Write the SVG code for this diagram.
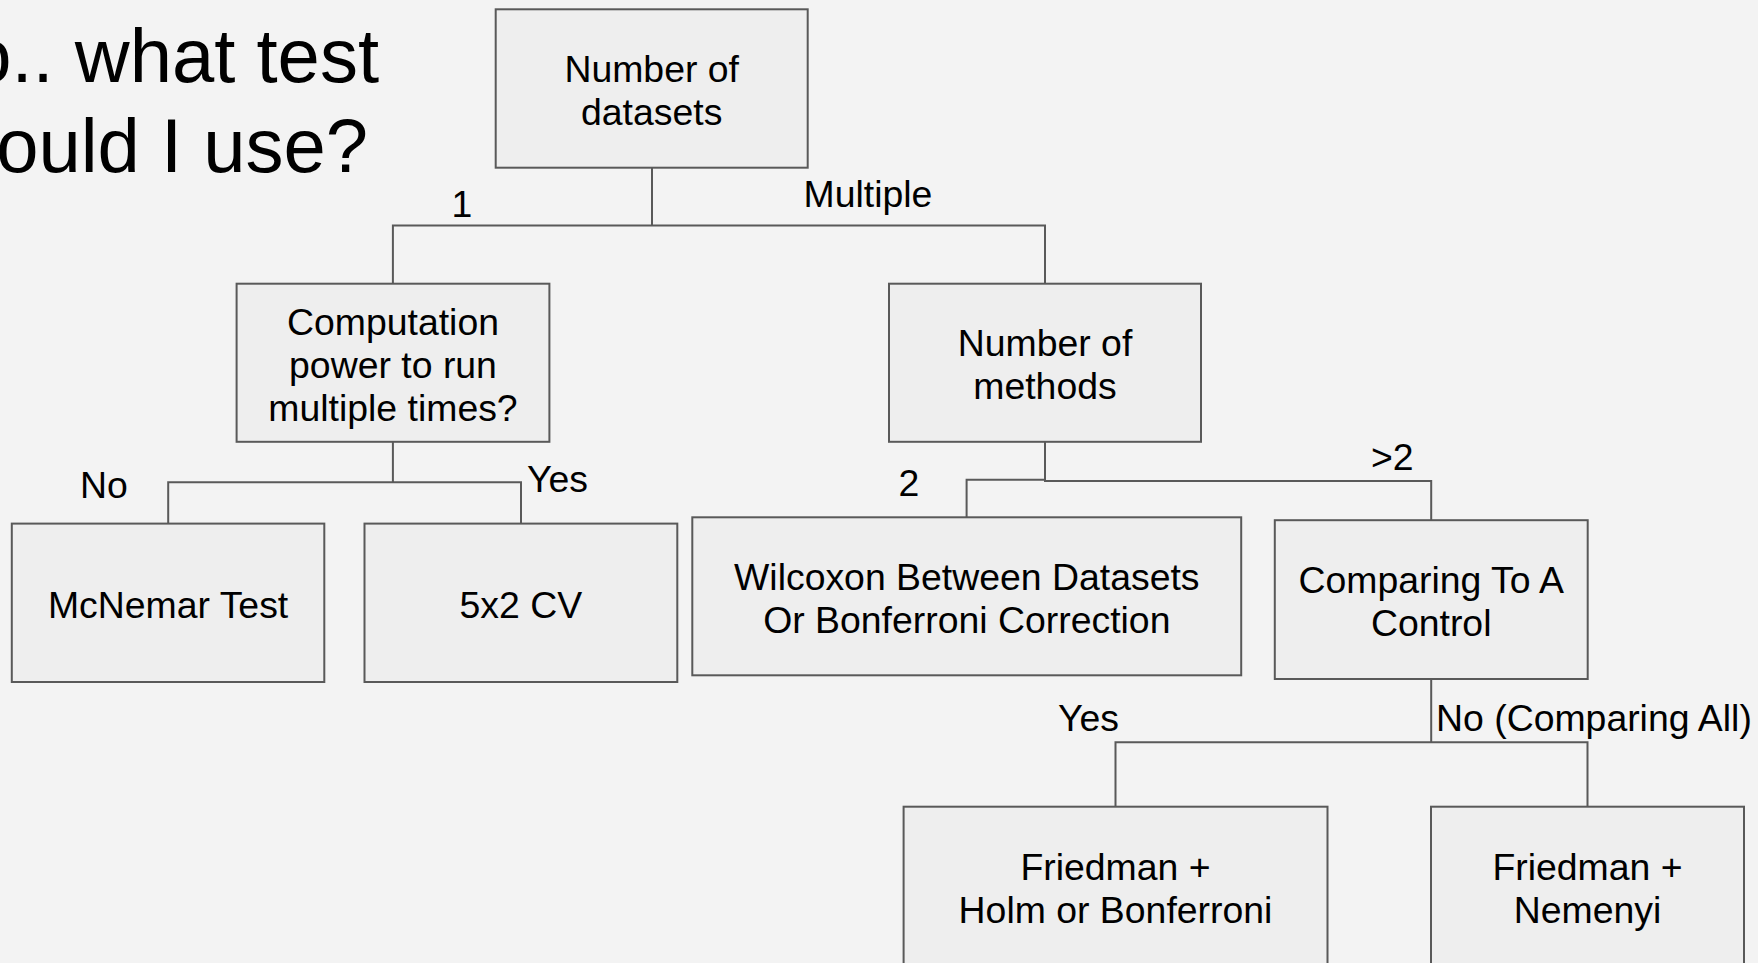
<svg xmlns="http://www.w3.org/2000/svg" width="1758" height="963" viewBox="0 0 1758 963">
  <style>
    .bg { fill: #f3f3f3; }
    .box { fill: #eeeeee; stroke: #595959; stroke-width: 2; }
    .conn { fill: none; stroke: #595959; stroke-width: 2; }
    text { font-family: "Liberation Sans", Arial, sans-serif; fill: #000000; }
    .t { font-size: 37.4px; }
    .c { text-anchor: middle; }
    .title { font-size: 76px; text-anchor: end; }
  </style>
  <rect class="bg" x="0" y="0" width="1758" height="963"/>

  <g id="title">
    <text class="title" x="379" y="82">o.. what test</text>
    <text class="title" x="368" y="172">ould I use?</text>
  </g>

  <g id="connectors">
    <path class="conn" d="M652,167.7 V225.5 M392.9,283.7 V225.5 H1045 V283.7"/>
    <path class="conn" d="M392.9,441.8 V482.3 M168.2,523.6 V482.3 H521 V523.6"/>
    <path class="conn" d="M1045,441.8 V481 H1431.2 V520.2 M1045,479.7 H966.6 V517.3"/>
    <path class="conn" d="M1431.2,679 V742.3 M1115.5,806.7 V742.3 H1587.5 V806.7"/>
  </g>

  <g id="labels">
    <text class="t c" x="462" y="217">1</text>
    <text class="t" x="803.5" y="207">Multiple</text>
    <text class="t" x="80" y="497.5">No</text>
    <text class="t" x="527" y="491.5">Yes</text>
    <text class="t c" x="909" y="496.3">2</text>
    <text class="t" x="1371" y="470.3">&gt;2</text>
    <text class="t" x="1058" y="731.3">Yes</text>
    <text class="t" x="1436" y="731.3">No (Comparing All)</text>
  </g>

  <g id="node-datasets">
    <rect class="box" x="495.7" y="9.3" width="312" height="158.4"/>
    <text class="t c" x="651.7" y="81.6">Number of</text>
    <text class="t c" x="651.7" y="124.6">datasets</text>
  </g>

  <g id="node-computation">
    <rect class="box" x="236.6" y="283.7" width="312.8" height="158.1"/>
    <text class="t c" x="393" y="334.5">Computation</text>
    <text class="t c" x="393" y="377.5">power to run</text>
    <text class="t c" x="393" y="420.5">multiple times?</text>
  </g>

  <g id="node-methods">
    <rect class="box" x="889" y="283.7" width="312" height="158.1"/>
    <text class="t c" x="1045" y="356">Number of</text>
    <text class="t c" x="1045" y="399">methods</text>
  </g>

  <g id="node-mcnemar">
    <rect class="box" x="11.8" y="523.6" width="312.5" height="158.4"/>
    <text class="t c" x="168.1" y="617.5">McNemar Test</text>
  </g>

  <g id="node-5x2cv">
    <rect class="box" x="364.5" y="523.6" width="312.8" height="158.4"/>
    <text class="t c" x="520.9" y="617.5">5x2 CV</text>
  </g>

  <g id="node-wilcoxon">
    <rect class="box" x="692.3" y="517.3" width="548.9" height="158"/>
    <text class="t c" x="966.8" y="589.5">Wilcoxon Between Datasets</text>
    <text class="t c" x="966.8" y="632.5">Or Bonferroni Correction</text>
  </g>

  <g id="node-control">
    <rect class="box" x="1274.8" y="520.2" width="312.9" height="158.8"/>
    <text class="t c" x="1431.2" y="592.7">Comparing To A</text>
    <text class="t c" x="1431.2" y="635.7">Control</text>
  </g>

  <g id="node-holm">
    <rect class="box" x="903.6" y="806.7" width="423.9" height="158.5"/>
    <text class="t c" x="1115.5" y="879.7">Friedman +</text>
    <text class="t c" x="1115.5" y="922.7">Holm or Bonferroni</text>
  </g>

  <g id="node-nemenyi">
    <rect class="box" x="1431" y="806.7" width="313" height="158.5"/>
    <text class="t c" x="1587.5" y="879.7">Friedman +</text>
    <text class="t c" x="1587.5" y="922.7">Nemenyi</text>
  </g>
</svg>
